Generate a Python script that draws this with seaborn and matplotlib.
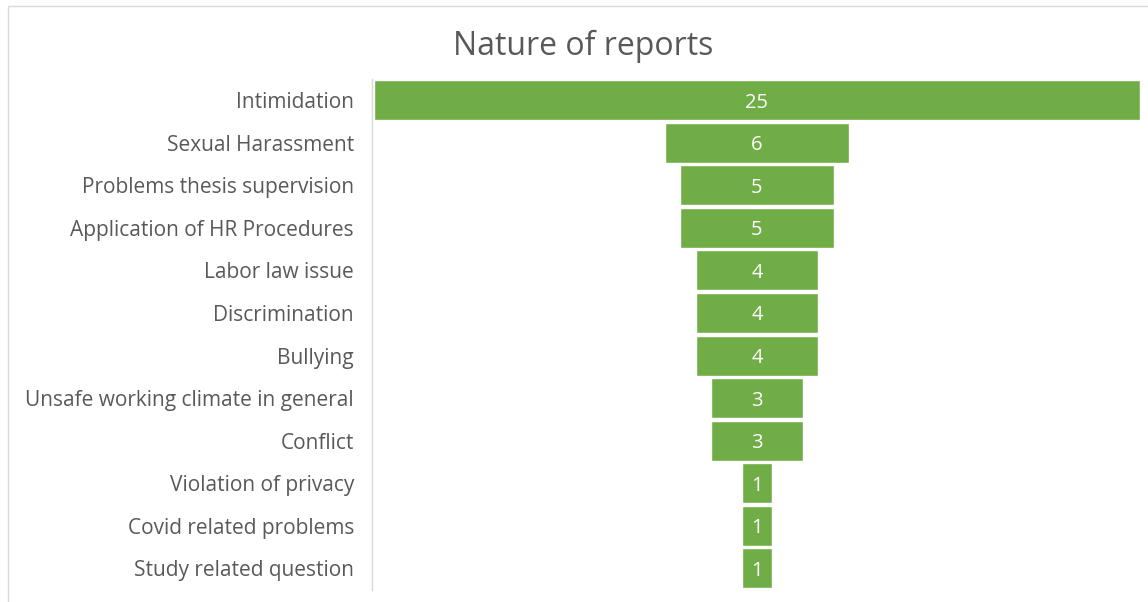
import pandas as pd
import matplotlib.pyplot as plt
import seaborn as sns
from matplotlib.patches import Rectangle

categories = [
    "Intimidation", "Sexual Harassment", "Problems thesis supervision",
    "Application of HR Procedures", "Labor law issue", "Discrimination",
    "Bullying", "Unsafe working climate in general", "Conflict",
    "Violation of privacy", "Covid related problems", "Study related question",
]
counts = [25, 6, 5, 5, 4, 4, 4, 3, 3, 1, 1, 1]

df = pd.DataFrame({"category": categories, "count": counts})

sns.set_style("white")
plt.rcParams["font.family"] = ["Open Sans", "DejaVu Sans"]

fig = plt.figure(figsize=(11.48, 6.02), dpi=100)
W, H = 1148, 602
ax = fig.add_axes([372 / W, 1 - 589.5 / H, (1140 - 372) / W, (589.5 - 79) / H])

sns.barplot(data=df, x="count", y="category", ax=ax, color="#70AD47",
            saturation=1, width=0.94, edgecolor="white", linewidth=1)

# centre every bar to get the funnel shape
for bar, v in zip(ax.patches, counts):
    bar.set_x(-v / 2)
    ax.text(0, bar.get_y() + bar.get_height() / 2, str(v), ha="center",
            va="center_baseline", color="white", fontsize=14.5)

ax.set_xlim(-12.56, 12.5)
ax.set_xlabel("")
ax.set_ylabel("")
ax.set_xticks([])
ax.tick_params(axis="y", length=0, pad=13, labelsize=15, labelcolor="#595959")
for lbl in ax.get_yticklabels():
    lbl.set_verticalalignment("center_baseline")
for s in ["top", "right", "bottom"]:
    ax.spines[s].set_visible(False)
ax.spines["left"].set_color("#d9d9d9")
ax.spines["left"].set_linewidth(1)

fig.text(583 / W, 1 - 46 / H, "Nature of reports", ha="center", va="center",
         fontsize=23, color="#595959")

# chart area border
fig.patches.append(Rectangle((8 / W, -0.1), 1.2, 1 - 6 / H + 0.1,
                             transform=fig.transFigure, fill=False,
                             edgecolor="#d9d9d9", linewidth=1))

fig.savefig("out.png", dpi=100)
